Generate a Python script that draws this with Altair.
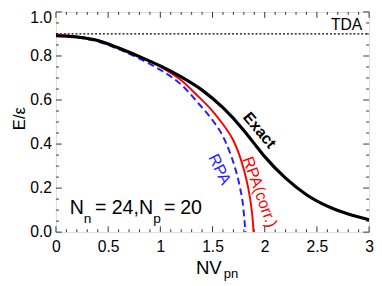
import altair as alt
import pandas as pd

# ---- data ----
exact_x = [0.0, 0.2, 0.4, 0.6, 0.8, 1.0, 1.2, 1.4, 1.6, 1.8, 1.9, 2.0, 2.2, 2.4, 2.6, 2.8, 3.0]
exact_y = [0.892, 0.886, 0.870, 0.836, 0.797, 0.755, 0.705, 0.645, 0.565, 0.462, 0.402, 0.343, 0.245, 0.170, 0.118, 0.082, 0.056]

rpac_x = [0.0, 0.2, 0.4, 0.6, 0.8, 1.0, 1.2, 1.37, 1.5, 1.6, 1.7, 1.75, 1.80, 1.84, 1.87, 1.885, 1.893]
rpac_y = [0.895, 0.889, 0.872, 0.839, 0.799, 0.752, 0.690, 0.613, 0.550, 0.490, 0.416, 0.360, 0.285, 0.205, 0.120, 0.055, 0.0]

rpa_x = [0.0, 0.2, 0.4, 0.6, 0.8, 1.0, 1.2, 1.37, 1.5, 1.6, 1.67, 1.72, 1.76, 1.79, 1.805, 1.815]
rpa_y = [0.891, 0.884, 0.866, 0.831, 0.788, 0.737, 0.670, 0.582, 0.508, 0.435, 0.357, 0.285, 0.209, 0.130, 0.060, 0.0]

tda_level = [0.9]

x_major = [0.0, 0.5, 1.0, 1.5, 2.0, 2.5, 3.0]
x_minor = [0.1, 0.2, 0.3, 0.4, 0.6, 0.7, 0.8, 0.9, 1.1, 1.2, 1.3, 1.4, 1.6, 1.7, 1.8, 1.9,
           2.1, 2.2, 2.3, 2.4, 2.6, 2.7, 2.8, 2.9]
y_major = [0.0, 0.2, 0.4, 0.6, 0.8]
y_top = [1.0]
y_major_labels = ["0.0", "0.2", "0.4", "0.6", "0.8"]
y_top_labels = ["1.0"]
y_minor = [0.05, 0.1, 0.15, 0.25, 0.3, 0.35, 0.45, 0.5, 0.55, 0.65, 0.7, 0.75, 0.85, 0.9, 0.95]

W, H = 320, 225
FONT = "Liberation Sans"

xs = alt.Scale(domain=[0, 3], nice=False, zero=False)
ys = alt.Scale(domain=[0, 1], nice=False, zero=False)
xaxis = alt.Axis(values=x_major, format="~g", ticks=False, tickSize=0, domain=False, grid=False,
                 labelFont=FONT, labelFontSize=16, labelPadding=7, labelColor="black",
                 labelFlush=False, title=None)


def X(f):
    return alt.X(f, type="quantitative", scale=xs, axis=xaxis)


def Y(f):
    return alt.Y(f, type="quantitative", scale=ys, axis=None)


def line(xv, yv, color, width, dash=None):
    df = pd.DataFrame({"x": xv, "y": yv})
    kw = dict(color=color, strokeWidth=width, interpolate="monotone", clip=True)
    if dash:
        kw["strokeDash"] = dash
    return alt.Chart(df).mark_line(**kw).encode(x=X("x"), y=Y("y"))


tda_df = pd.DataFrame({"y": tda_level})
tda = alt.Chart(tda_df).mark_rule(color="black", strokeWidth=1.3, strokeDash=[2, 2]).encode(
    y=Y("y"), x=alt.value(0), x2=alt.value(W))

TICK = "#333333"


def vticks(vals, L):
    df = pd.DataFrame({"v": vals})
    b = alt.Chart(df).mark_rule(color=TICK, strokeWidth=1).encode(
        x=X("v"), y=alt.value(H), y2=alt.value(H - L))
    t = alt.Chart(df).mark_rule(color=TICK, strokeWidth=1).encode(
        x=X("v"), y=alt.value(0), y2=alt.value(L))
    return [b, t]


def hticks(vals, L):
    df = pd.DataFrame({"v": vals})
    l = alt.Chart(df).mark_rule(color=TICK, strokeWidth=1).encode(
        y=Y("v"), x=alt.value(0), x2=alt.value(L))
    r = alt.Chart(df).mark_rule(color=TICK, strokeWidth=1).encode(
        y=Y("v"), x=alt.value(W), x2=alt.value(W - L))
    return [l, r]


def ylabels(vals, labs, baseline, dy):
    df = pd.DataFrame({"v": vals, "s": labs})
    return alt.Chart(df).mark_text(font=FONT, fontSize=16, color="black", align="right",
                                   baseline=baseline, dy=dy).encode(
        y=Y("v"), x=alt.value(-4), text="s:N")


def label(txt, x, y, size, color="black", angle=0, weight="normal",
          align="left", baseline="alphabetic"):
    df = pd.DataFrame({"t": [txt]})
    return alt.Chart(df).mark_text(font=FONT, fontSize=size, color=color, angle=angle,
                                   fontWeight=weight, align=align, baseline=baseline).encode(
        x=alt.value(x), y=alt.value(y), text="t:N")


ox, oy = 57, 9  # plot origin on the page
layers = []
layers += vticks(x_major, 6) + vticks(x_minor, 3) + hticks(y_major + y_top, 6) + hticks(y_minor, 3)
layers += [ylabels(y_major, y_major_labels, "middle", 0),
           ylabels(y_top, y_top_labels, "top", -2)]
layers += [tda,
           line(rpa_x, rpa_y, "#1f1fff", 2, [7, 4]),
           line(rpac_x, rpac_y, "#ff0000", 2),
           line(exact_x, exact_y, "black", 3.2)]
layers += [
    label("TDA", 370 - ox, 27 - oy, 16, align="right"),
    label("Exact", 265 - ox, 130 - oy, 16, angle=50, weight="bold", align="center", baseline="middle"),
    label("RPA(corr.)", 265 - ox, 193 - oy, 16.5, color="#ff0000", angle=70, align="center", baseline="middle"),
    label("RPA", 224 - ox, 170 - oy, 16.5, color="#1f1fff", angle=64, align="center", baseline="middle"),
    label("N", 71 - ox, 215 - oy, 20),
    label("n", 85.5 - ox, 225 - oy, 14),
    label("=", 97 - ox, 215 - oy, 20),
    label("24,N", 114 - ox, 215 - oy, 20),
    label("p", 156.5 - ox, 225 - oy, 14),
    label("=", 167.5 - ox, 215 - oy, 20),
    label("20", 184 - ox, 215 - oy, 20),
    label("NV", 200 - ox, 277 - oy, 19),
    label("pn", 228.5 - ox, 280.5 - oy, 13.3),
    label("E/\u03b5", 25 - ox, 118 - oy, 17, angle=270, align="center", baseline="alphabetic"),
]

chart = alt.layer(*layers).properties(
    width=W, height=H,
    autosize=alt.AutoSizeParams(type="none"),
    padding={"left": 49, "top": 1, "right": 5, "bottom": 52},
).configure_view(stroke="#808080", strokeWidth=1.5).configure(background="white")

chart.save("out.html", embed_options={"renderer": "svg", "actions": False})
